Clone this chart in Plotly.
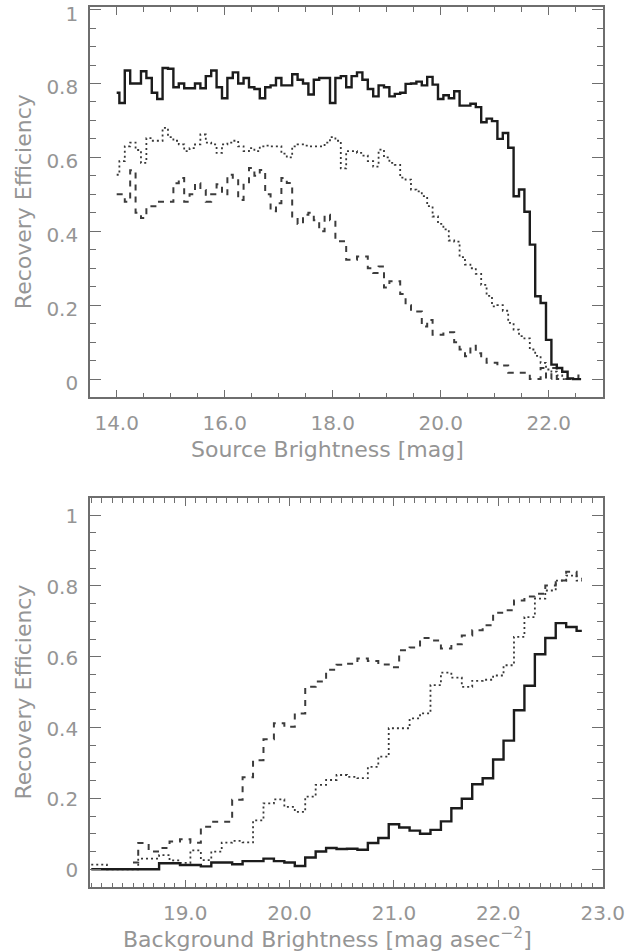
import numpy as np
import plotly.graph_objects as go

# ---------------- data ----------------
# top panel: bins centred at 14.0 ... 22.6 (0.1 mag)
src_mag = [round(14.0 + 0.1 * i, 1) for i in range(87)]
src_solid = [0.775, 0.747, 0.835, 0.800, 0.800, 0.833, 0.815, 0.775, 0.758, 0.842,
             0.840, 0.790, 0.800, 0.787, 0.787, 0.800, 0.787, 0.820, 0.835, 0.790,
             0.760, 0.815, 0.830, 0.800, 0.815, 0.790, 0.785, 0.760, 0.790, 0.795,
             0.815, 0.795, 0.795, 0.825, 0.810, 0.800, 0.770, 0.810, 0.815, 0.815,
             0.747, 0.815, 0.820, 0.790, 0.820, 0.830, 0.810, 0.785, 0.765, 0.795,
             0.790, 0.765, 0.772, 0.775, 0.799, 0.800, 0.805, 0.795, 0.818, 0.797,
             0.758, 0.768, 0.760, 0.779, 0.740, 0.740, 0.745, 0.736, 0.695, 0.705,
             0.698, 0.650, 0.666, 0.626, 0.495, 0.513, 0.453, 0.364, 0.224, 0.206,
             0.106, 0.039, 0.030, 0.020, 0.002, 0.000, 0.000]
src_dotted = [0.553, 0.590, 0.630, 0.640, 0.620, 0.585, 0.652, 0.645, 0.645, 0.680,
              0.655, 0.645, 0.635, 0.617, 0.625, 0.635, 0.662, 0.640, 0.635, 0.612,
              0.635, 0.640, 0.645, 0.630, 0.617, 0.625, 0.617, 0.630, 0.632, 0.630,
              0.630, 0.610, 0.600, 0.630, 0.635, 0.632, 0.630, 0.630, 0.630, 0.640,
              0.655, 0.645, 0.570, 0.617, 0.617, 0.612, 0.605, 0.590, 0.575, 0.621,
              0.600, 0.585, 0.580, 0.545, 0.540, 0.513, 0.508, 0.495, 0.468, 0.440,
              0.420, 0.405, 0.375, 0.372, 0.330, 0.310, 0.300, 0.285, 0.255, 0.225,
              0.197, 0.200, 0.185, 0.152, 0.134, 0.116, 0.110, 0.080, 0.063, 0.044,
              0.026, 0.020, 0.010, 0.000]
src_dashed = [0.500, 0.500, 0.480, 0.565, 0.450, 0.436, 0.468, 0.468, 0.480, 0.480,
              0.480, 0.530, 0.544, 0.480, 0.500, 0.530, 0.512, 0.480, 0.500, 0.527,
              0.500, 0.553, 0.545, 0.485, 0.530, 0.571, 0.550, 0.566, 0.500, 0.454,
              0.476, 0.544, 0.531, 0.440, 0.420, 0.445, 0.450, 0.430, 0.400, 0.445,
              0.430, 0.373, 0.373, 0.323, 0.323, 0.332, 0.332, 0.300, 0.287, 0.305,
              0.248, 0.265, 0.265, 0.230, 0.200, 0.183, 0.183, 0.142, 0.160, 0.120,
              0.120, 0.127, 0.127, 0.100, 0.080, 0.062, 0.090, 0.070, 0.055, 0.044,
              0.044, 0.037, 0.037, 0.017, 0.017, 0.017, 0.017, 0.000, 0.000, 0.030,
              0.000, 0.030, 0.000, 0.000, 0.000, 0.000, 0.010]

# bottom panel: bins centred at 18.1 ... 22.8 (0.1 mag/arcsec^2)
bkg_mag = [round(18.1 + 0.1 * i, 1) for i in range(48)]
bkg_solid = [0.0, 0.0, 0.0, 0.0, 0.0, 0.0, 0.0, 0.017, 0.017, 0.012,
             0.012, 0.008, 0.019, 0.019, 0.014, 0.023, 0.023, 0.030, 0.023, 0.019,
             0.009, 0.033, 0.050, 0.060, 0.057, 0.058, 0.055, 0.074, 0.088, 0.127,
             0.118, 0.109, 0.100, 0.111, 0.135, 0.172, 0.199, 0.240, 0.257, 0.310,
             0.363, 0.449, 0.518, 0.607, 0.653, 0.695, 0.684, 0.673]
bkg_dotted = [0.013, 0.013, 0.0, 0.0, 0.0, 0.030, 0.030, 0.040, 0.025, 0.018,
              0.053, 0.026, 0.050, 0.075, 0.080, 0.076, 0.138, 0.186, 0.197, 0.176,
              0.162, 0.205, 0.238, 0.252, 0.266, 0.261, 0.257, 0.289, 0.318, 0.398,
              0.398, 0.426, 0.440, 0.520, 0.555, 0.541, 0.515, 0.532, 0.535, 0.547,
              0.576, 0.656, 0.712, 0.764, 0.787, 0.815, 0.829, 0.815]
bkg_dashed_start = 4
bkg_dashed = [0.019, 0.074, 0.050, 0.060, 0.078, 0.085, 0.075, 0.120, 0.134, 0.134,
              0.196, 0.260, 0.308, 0.367, 0.412, 0.402, 0.440, 0.515, 0.530, 0.563,
              0.577, 0.580, 0.595, 0.588, 0.578, 0.570, 0.618, 0.626, 0.653, 0.646,
              0.623, 0.635, 0.660, 0.675, 0.689, 0.724, 0.731, 0.759, 0.770, 0.778,
              0.801, 0.815, 0.840, 0.820]

# tick labels
eff_ticks = [0, 0.2, 0.4, 0.6, 0.8, 1.0]
eff_labels = ["0", "0.2", "0.4", "0.6", "0.8", "1"]
src_ticks = [14, 16, 18, 20, 22]
src_labels = ["14.0", "16.0", "18.0", "20.0", "22.0"]
bkg_ticks = [19, 20, 21, 22, 23]
bkg_labels = ["19.0", "20.0", "21.0", "22.0", "23.0"]

# ---------------- figure ----------------
W, H = 642, 952
X0, X1 = 90, 602.7
TOP = (7, 397.3)
BOT = (497.7, 887.3)

def py(p):
    return 1 - p / H

TXT = "#959595"
AX = "#6e6e6e"
TICKFONT = dict(family="DejaVu Sans", size=20, color=TXT)

fig = go.Figure()

def add(x, y, xa, ya, color, width, dash):
    fig.add_trace(go.Scatter(x=x, y=y, mode="lines", line_shape="hvh",
                             line=dict(color=color, width=width, dash=dash),
                             xaxis=xa, yaxis=ya, showlegend=False, hoverinfo="skip"))

DOT = "2px,3px"
DASH = "6px,6px"
add(src_mag[:len(src_dotted)], src_dotted, "x", "y", "#383838", 1.8, DOT)
add(src_mag, src_dashed, "x", "y", "#3c3c3c", 2.0, DASH)
add(src_mag, src_solid, "x", "y", "#1c1c1c", 2.4, "solid")

add(bkg_mag, bkg_dotted, "x2", "y2", "#383838", 1.8, DOT)
add(bkg_mag[bkg_dashed_start:], bkg_dashed, "x2", "y2", "#3c3c3c", 2.0, DASH)
add(bkg_mag, bkg_solid, "x2", "y2", "#1c1c1c", 2.4, "solid")

common_axis = dict(showline=True, linecolor=AX, linewidth=1.6, mirror="ticks",
                   ticks="inside", tickcolor=AX, tickwidth=1.3,
                   showgrid=False, zeroline=False, tickfont=TICKFONT,
                   tickmode="array", ticklabeloverflow="allow", automargin=False)

def minor(t0, dt, ln):
    return dict(tick0=t0, dtick=dt, ticks="inside", ticklen=ln,
                tickcolor=AX, tickwidth=1.2, showgrid=False)

fig.update_layout(
    width=W, height=H,
    margin=dict(l=0, r=0, t=0, b=0, autoexpand=False),
    paper_bgcolor="white", plot_bgcolor="white",
    xaxis=dict(domain=[X0 / W, X1 / W], anchor="y", range=[13.506, 23.0],
               tickvals=src_ticks, ticktext=src_labels, ticklen=8,
               ticklabelstandoff=7, minor=minor(14, 0.5, 5), **common_axis),
    yaxis=dict(domain=[py(TOP[1]), py(TOP[0])], anchor="x", range=[-0.0493, 1.007],
               tickvals=eff_ticks, ticktext=eff_labels, ticklen=11,
               ticklabelstandoff=6, ticklabelshift=4,
               minor=minor(0, 0.05, 6), **common_axis),
    xaxis2=dict(domain=[X0 / W, X1 / W], anchor="y2", range=[18.088, 23.0],
                tickvals=bkg_ticks, ticktext=bkg_labels, ticklen=8,
                ticklabelstandoff=7, minor=minor(19, 0.1, 5), **common_axis),
    yaxis2=dict(domain=[py(BOT[1]), py(BOT[0])], anchor="x2", range=[-0.051, 1.049],
                tickvals=eff_ticks, ticktext=eff_labels, ticklen=11,
                ticklabelstandoff=6, ticklabelshift=1,
                minor=minor(0, 0.05, 6), **common_axis),
)

TITLEFONT = dict(family="DejaVu Sans", size=22, color=TXT)
annots = [
    dict(text="Recovery Efficiency", x=23 / W, y=py((TOP[0] + TOP[1]) / 2), textangle=-90),
    dict(text="Recovery Efficiency", x=23 / W, y=py((BOT[0] + BOT[1]) / 2), textangle=-90),
    dict(text="Source Brightness [mag]", x=328 / W, y=py(449), textangle=0),
    dict(text="Background Brightness [mag asec<sup>\u22122</sup>]", x=328 / W, y=py(938), textangle=0),
]
for a in annots:
    fig.add_annotation(xref="paper", yref="paper", showarrow=False,
                       xanchor="center", yanchor="middle", font=TITLEFONT, **a)

fig.write_html("out.html")
